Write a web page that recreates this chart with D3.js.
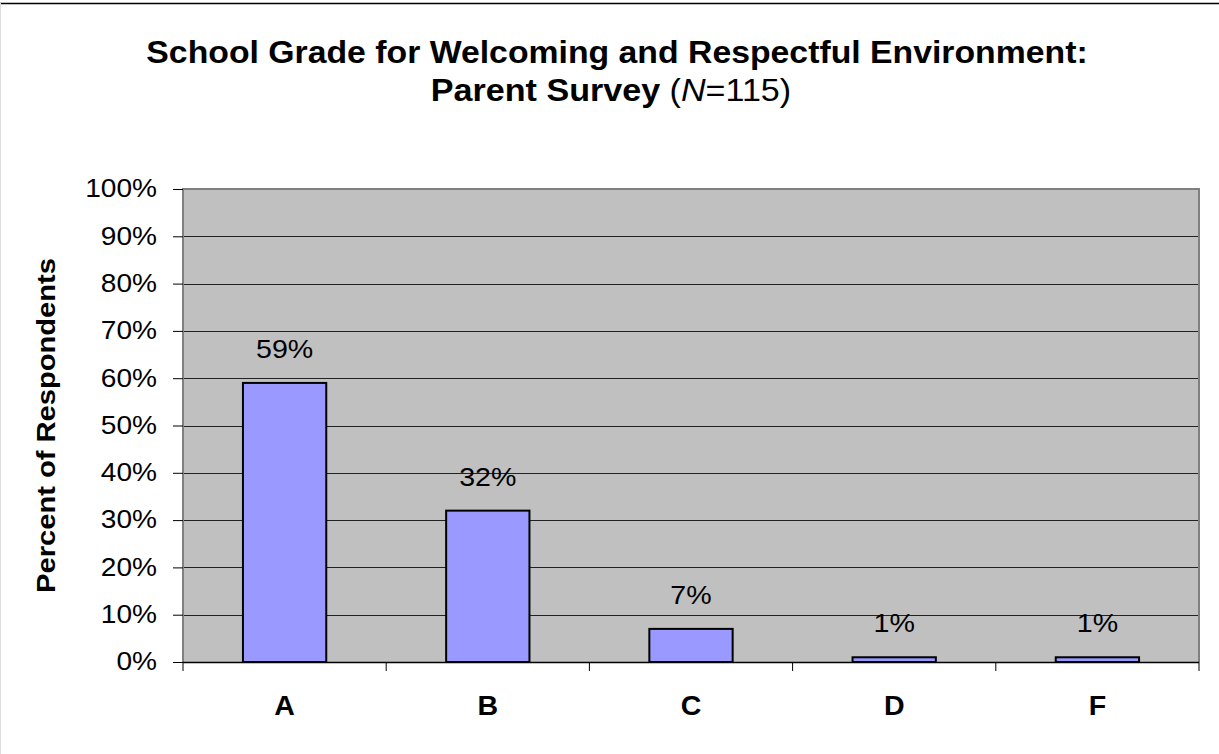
<!DOCTYPE html>
<html>
<head>
<meta charset="utf-8">
<script src="https://cdn.jsdelivr.net/npm/d3@7"></script>
<style>
  html, body { margin: 0; padding: 0; background: #fff; }
  text { font-family: "Liberation Sans", Arial, sans-serif; }
</style>
</head>
<body>
<div id="container"></div>
<script>
// data
var grades = ["A", "B", "C", "D", "F"];
var percents = [59, 32, 7, 1, 1];
var yTicks = [0, 10, 20, 30, 40, 50, 60, 70, 80, 90, 100];

let width = 1219;
let height = 754;
var svg = d3.select("#container").append("svg")
  .attr("width", width).attr("height", height);

// the original's text is slightly wider than Liberation Sans:
// move x/y into a transform and scale horizontally
function stretch(sel, sx) {
  sel.each(function() {
    var t = d3.select(this);
    var tx = +t.attr("x") || 0, ty = +t.attr("y") || 0;
    t.attr("x", 0).attr("y", 0)
      .attr("transform", "translate(" + tx + "," + ty + ") scale(" + sx + ",1)");
  });
}

// outer frame
svg.append("line").attr("x1", 0).attr("x2", width).attr("y1", 3.5).attr("y2", 3.5)
  .attr("stroke", "#000").attr("stroke-width", 1.5);
svg.append("line").attr("x1", 0.5).attr("x2", 0.5).attr("y1", 3).attr("y2", height)
  .attr("stroke", "#ddd").attr("stroke-width", 1);

var plot = { left: 183, right: 1199, top: 189, bottom: 662 };

var x = d3.scaleBand().domain(grades).range([plot.left, plot.right]).padding(0);
var y = d3.scaleLinear().domain([0, 100]).range([plot.bottom, plot.top]);

// title
var t1 = svg.append("text").attr("text-anchor", "middle").attr("x", 617).attr("y", 63)
  .attr("font-size", 31).attr("font-weight", "bold")
  .text("School Grade for Welcoming and Respectful Environment:");
var t2 = svg.append("text").attr("text-anchor", "middle").attr("x", 611).attr("y", 101)
  .attr("font-size", 31);
t2.append("tspan").attr("font-weight", "bold").text("Parent Survey ");
t2.append("tspan").text("(");
t2.append("tspan").attr("font-style", "italic").text("N");
t2.append("tspan").text("=115)");
stretch(t1, 1.09);
stretch(t2, 1.1);

// plot background
svg.append("rect")
  .attr("x", plot.left).attr("y", plot.top)
  .attr("width", plot.right - plot.left).attr("height", plot.bottom - plot.top)
  .attr("fill", "#c0c0c0");

// gridlines
svg.append("g").selectAll("line")
  .data(yTicks.filter(function(d) { return d > 0 && d < 100; }))
  .enter().append("line")
  .attr("x1", plot.left).attr("x2", plot.right)
  .attr("y1", function(d) { return Math.round(y(d)) + 0.5; })
  .attr("y2", function(d) { return Math.round(y(d)) + 0.5; })
  .attr("stroke", "#222").attr("stroke-width", 1);

// plot border (top, right, left)
svg.append("path")
  .attr("d", "M" + plot.left + "," + (plot.bottom + 9) + "V" + plot.top + "H" + plot.right + "V" + (plot.bottom + 9))
  .attr("fill", "none").attr("stroke", "#808080").attr("stroke-width", 2);

// bars
var barW = x.bandwidth() * 0.41;
svg.append("g").selectAll("rect")
  .data(percents).enter().append("rect")
  .attr("x", function(d, i) { return x(grades[i]) + (x.bandwidth() - barW) / 2; })
  .attr("y", function(d) { return y(d); })
  .attr("width", barW)
  .attr("height", function(d) { return y(0) - y(d); })
  .attr("fill", "#9999ff").attr("stroke", "#000").attr("stroke-width", 2);

// value labels
var vl = svg.append("g").selectAll("text")
  .data(percents).enter().append("text")
  .attr("x", function(d, i) { return x(grades[i]) + x.bandwidth() / 2; })
  .attr("y", function(d) { return y(d) - 25; })
  .attr("text-anchor", "middle").attr("font-size", 26)
  .text(function(d) { return d + "%"; });
stretch(vl, 1.1);

// y axis
var yAxis = d3.axisLeft(y).tickValues(yTicks).tickSize(10).tickPadding(16)
  .tickFormat(function(d) { return d + "%"; });
var gy = svg.append("g").attr("transform", "translate(" + plot.left + ",0)").call(yAxis);
gy.select(".domain").remove();
gy.selectAll("line").attr("stroke", "#000");
gy.selectAll("text").attr("font-size", 26).attr("fill", "#000")
  .attr("font-family", "Liberation Sans, Arial, sans-serif").attr("dy", "0.3em");
stretch(gy.selectAll("text"), 1.08);

// x axis
var gx = svg.append("g").attr("transform", "translate(0," + plot.bottom + ")");
gx.append("line").attr("x1", plot.left).attr("x2", plot.right).attr("y1", 0.5).attr("y2", 0.5)
  .attr("stroke", "#000").attr("stroke-width", 1.5);
gx.selectAll(".tk").data(grades.slice(1)).enter().append("line")
  .attr("x1", function(d) { return x(d); }).attr("x2", function(d) { return x(d); })
  .attr("y1", 0).attr("y2", 9).attr("stroke", "#000");
var xl = gx.selectAll(".lbl").data(grades).enter().append("text")
  .attr("x", function(d) { return x(d) + x.bandwidth() / 2; })
  .attr("y", 53).attr("text-anchor", "middle")
  .attr("font-size", 28).attr("font-weight", "bold")
  .text(function(d) { return d; });
stretch(xl, 1.02);

// y axis title
svg.append("text")
  .attr("transform", "translate(55," + ((plot.top + plot.bottom) / 2) + ") rotate(-90) scale(1.12,1)")
  .attr("text-anchor", "middle").attr("font-size", 26).attr("font-weight", "bold")
  .text("Percent of Respondents");
</script>
</body>
</html>
